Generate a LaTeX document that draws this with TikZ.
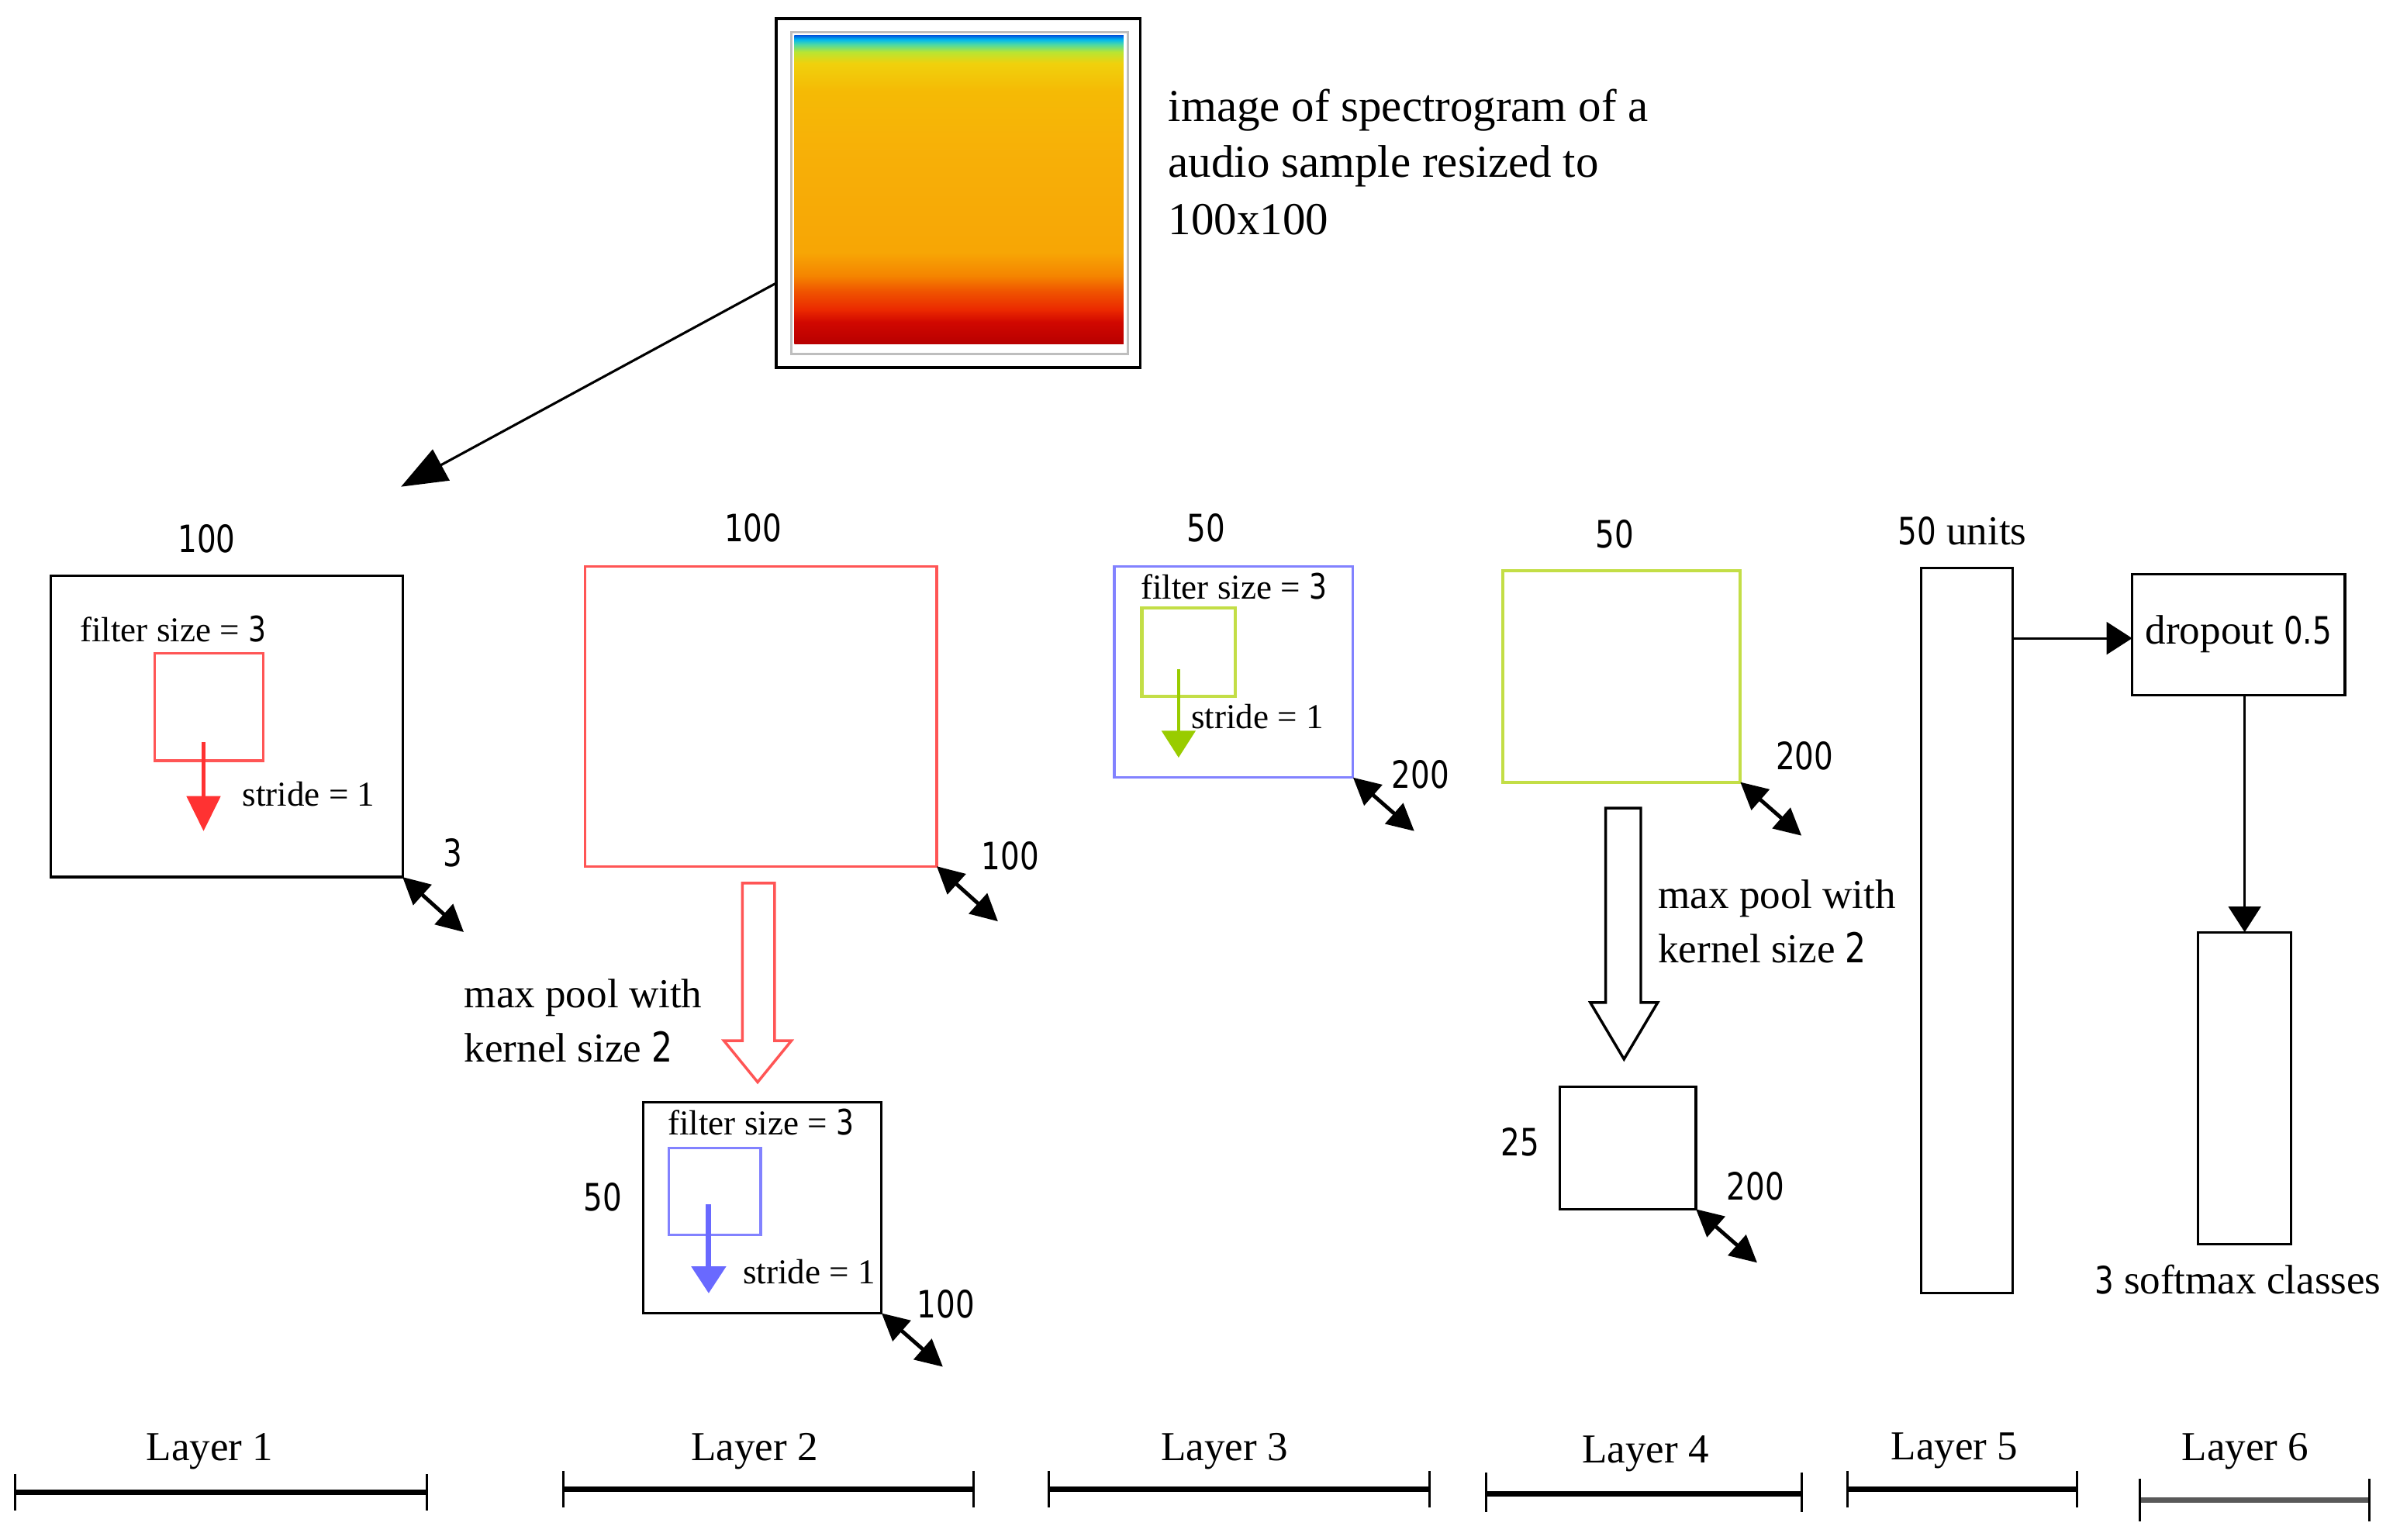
\documentclass[tikz,border=0pt]{standalone}
\usepackage{fontspec}
\setmainfont{Liberation Serif}
\newfontfamily\numfont{DejaVu Sans}[FakeStretch=0.8]
\usetikzlibrary{arrows.meta}
\definecolor{boxred}{RGB}{255,85,85}
\definecolor{boxblue}{RGB}{130,130,255}
\definecolor{boxgreen}{RGB}{195,222,70}
\definecolor{arrred}{RGB}{255,50,50}
\definecolor{arrblue}{RGB}{105,105,255}
\definecolor{arrgreen}{RGB}{153,204,0}
\definecolor{framegray}{RGB}{190,190,190}
\pgfdeclareverticalshading{spec}{100bp}{
  rgb(0bp)=(0.72,0,0); rgb(25bp)=(0.72,0,0);
  rgb(28.5bp)=(0.82,0.03,0);
  rgb(30.5bp)=(0.92,0.16,0);
  rgb(33.5bp)=(0.94,0.33,0);
  rgb(36bp)=(0.96,0.52,0);
  rgb(39.8bp)=(0.97,0.65,0.02);
  rgb(56bp)=(0.97,0.69,0.03);
  rgb(66bp)=(0.96,0.73,0.02);
  rgb(70.5bp)=(0.94,0.82,0.05);
  rgb(72.3bp)=(0.72,0.90,0.20);
  rgb(73.5bp)=(0.30,0.85,0.65);
  rgb(74.3bp)=(0,0.72,0.94);
  rgb(75bp)=(0,0.33,0.86); rgb(100bp)=(0,0.33,0.86)}
\tikzset{
  fbox/.style={draw, line width=0.9pt, inner sep=0pt, outer sep=0pt},
  lab/.style={inner sep=0pt, font=\fontsize{15.3}{18}\selectfont},
  smalllab/.style={inner sep=0pt, font=\fontsize{13}{15}\selectfont},
  num/.style={inner sep=0pt, font=\fontsize{14}{16}\selectfont\numfont},
  caplab/.style={inner sep=0pt, anchor=base west, font=\fontsize{17}{20}\selectfont},
  dbl/.style={line width=1.4pt, {Triangle[length=10pt,width=10pt]}-{Triangle[length=10pt,width=10pt]}},
  bigarr/.style={line width=0.9pt, -{Triangle[length=17pt,width=13pt]}},
  flow/.style={line width=0.9pt, -{Triangle[length=9.5pt,width=12pt]}},
  filtarr/.style={-{Triangle[length=#1,width=12.5pt]}},
  blockarr/.style={line width=1pt, line join=miter},
  layerbar/.style={line width=1.8pt},
  layertick/.style={line width=0.9pt},
}
\begin{document}
\begin{tikzpicture}[x=0.02cm,y=-0.02cm]
\useasboundingbox (0,0) rectangle (1568,1006);

% ---------- spectrogram image ----------
\node[fbox, line width=1.1pt, minimum width=4.76cm, minimum height=4.56cm] (spec) at (626,126) {};
\draw[framegray, line width=0.9pt] (517,21) rectangle (737,231.5);
\shade[shading=spec] (519,23) rectangle (734,224.5);
\node[caplab] (cap1) at (763,79.5) {image of spectrogram of a};
\node[caplab] (cap2) at (763,116) {audio sample resized to};
\node[caplab] (cap3) at (763,153.5) {100x100};
\coordinate (inend) at (262,318);
\draw[bigarr] (spec.west |- 0,185) -- (inend);

% ---------- Layer 1 ----------
\node[fbox, minimum width=4.6cm, minimum height=3.94cm] (l1) at (148,474.5) {};
\node[num] (l1w) at (135,352) {100};
\node[smalllab, anchor=west] (l1f) at (52,411) {filter size = {\numfont 3}};
\node[fbox, draw=boxred, minimum width=1.42cm, minimum height=1.4cm] (f1) at (136.5,462) {};
\draw[arrred, line width=1.2pt, filtarr=13pt] (133,485) -- (133,543);
\node[smalllab, anchor=west] (l1s) at (158,519) {stride = 1};
\draw[dbl] (l1.south east) -- ++(40,36);
\node[num] (l1d) at (296,557) {3};

% ---------- Layer 2 ----------
\node[fbox, draw=boxred, minimum width=4.6cm, minimum height=3.92cm] (l2) at (497,468) {};
\node[num] (l2w) at (492,345) {100};
\draw[dbl] (l2.south east) -- ++(40,36);
\node[num] (l2d) at (660,559) {100};
\draw[blockarr, draw=boxred] (485,577) -- (506,577) -- (506,680) -- (517,680) -- (495,707) -- (473,680) -- (485,680) -- cycle;
\node[lab, anchor=west] (mp1a) at (303,652) {max pool with};
\node[lab, anchor=west] (mp1b) at (303,684) {kernel size {\numfont 2}};
\node[fbox, minimum width=3.12cm, minimum height=2.76cm] (p2) at (498,789) {};
\node[smalllab, anchor=west] (p2f) at (436,733) {filter size = {\numfont 3}};
\node[fbox, draw=boxblue, minimum width=1.2cm, minimum height=1.14cm] (f2) at (467,778.5) {};
\draw[arrblue, line width=2pt, filtarr=10pt] (463,787) -- (463,845);
\node[smalllab, anchor=west] (p2s) at (485,831) {stride = 1};
\node[num] (p2h) at (394,782) {50};
\draw[dbl] (p2.south east) -- ++(40,35);
\node[num] (p2d) at (618,852) {100};

% ---------- Layer 3 ----------
\node[fbox, draw=boxblue, minimum width=3.12cm, minimum height=2.76cm] (l3) at (806,439) {};
\node[num] (l3w) at (788,345) {50};
\node[smalllab, anchor=west] (l3f) at (745,383) {filter size = {\numfont 3}};
\node[fbox, draw=boxgreen, line width=1.2pt, minimum width=1.22cm, minimum height=1.16cm] (f3) at (776.5,426) {};
\draw[arrgreen, line width=1.1pt, filtarr=10pt] (770,437) -- (770,495);
\node[smalllab, anchor=west] (l3s) at (778,468) {stride = 1};
\draw[dbl] (l3.south east) -- ++(40,35);
\node[num] (l3d) at (928,506) {200};

% ---------- Layer 4 ----------
\node[fbox, draw=boxgreen, line width=1.2pt, minimum width=3.1cm, minimum height=2.76cm] (l4) at (1059.5,442) {};
\node[num] (l4w) at (1055,349) {50};
\draw[dbl] (l4.south east) -- ++(40,35);
\node[num] (l4d) at (1179,494) {200};
\draw[blockarr] (1049,528) -- (1072,528) -- (1072,655) -- (1083,655) -- (1061,692) -- (1039,655) -- (1049,655) -- cycle;
\node[lab, anchor=west] (mp2a) at (1083,587) {max pool with};
\node[lab, anchor=west] (mp2b) at (1083,619) {kernel size {\numfont 2}};
\node[fbox, minimum width=1.78cm, minimum height=1.6cm] (p4) at (1063.5,750) {};
\node[num] (p4h) at (993,746) {25};
\draw[dbl] (p4.south east) -- ++(40,35);
\node[num] (p4d) at (1147,775) {200};

% ---------- Layer 5 ----------
\node[fbox, minimum width=1.2cm, minimum height=9.48cm] (l5) at (1285,608) {};
\node[lab] (l5u) at (1282,347) {{\numfont\fontsize{14}{16}\selectfont 50} units};

% ---------- Layer 6 ----------
\node[fbox, minimum width=2.78cm, minimum height=1.58cm, font=\fontsize{15.3}{18}\selectfont] (drop) at (1462.5,414.5) {dropout {\numfont\fontsize{14}{16}\selectfont 0.5}};
\node[fbox, minimum width=1.22cm, minimum height=4.08cm] (soft) at (1466.5,711) {};
\node[lab] (softl) at (1462,836) {{\numfont\fontsize{14}{16}\selectfont 3} softmax classes};
\draw[flow] (l5.east |- 0,417) -- (drop.west |- 0,417);
\draw[flow] (soft.north |- drop.south) -- (soft.north);

% ---------- layer scale bars ----------
\node[lab] (lay1) at (137,948) {Layer 1};
\node[lab] (lay2) at (493,948) {Layer 2};
\node[lab] (lay3) at (800,948) {Layer 3};
\node[lab] (lay4) at (1075,950) {Layer 4};
\node[lab] (lay5) at (1277,948) {Layer 5};
\node[lab] (lay6) at (1467,948) {Layer 6};
\draw[layerbar] (10,975) -- (279,975);
\draw[layertick] (10,963) -- (10,987) (279,963) -- (279,987);
\draw[layerbar] (368,973) -- (636,973);
\draw[layertick] (368,961) -- (368,985) (636,961) -- (636,985);
\draw[layerbar] (685,973) -- (934,973);
\draw[layertick] (685,961) -- (685,985) (934,961) -- (934,985);
\draw[layerbar] (971,976) -- (1177,976);
\draw[layertick] (971,962) -- (971,988) (1177,962) -- (1177,988);
\draw[layerbar] (1207,973) -- (1357,973);
\draw[layertick] (1207,961) -- (1207,985) (1357,961) -- (1357,985);
\draw[layerbar, black!65] (1398,980) -- (1548,980);
\draw[layertick] (1398,966) -- (1398,994) (1548,966) -- (1548,994);
\end{tikzpicture}
\end{document}
